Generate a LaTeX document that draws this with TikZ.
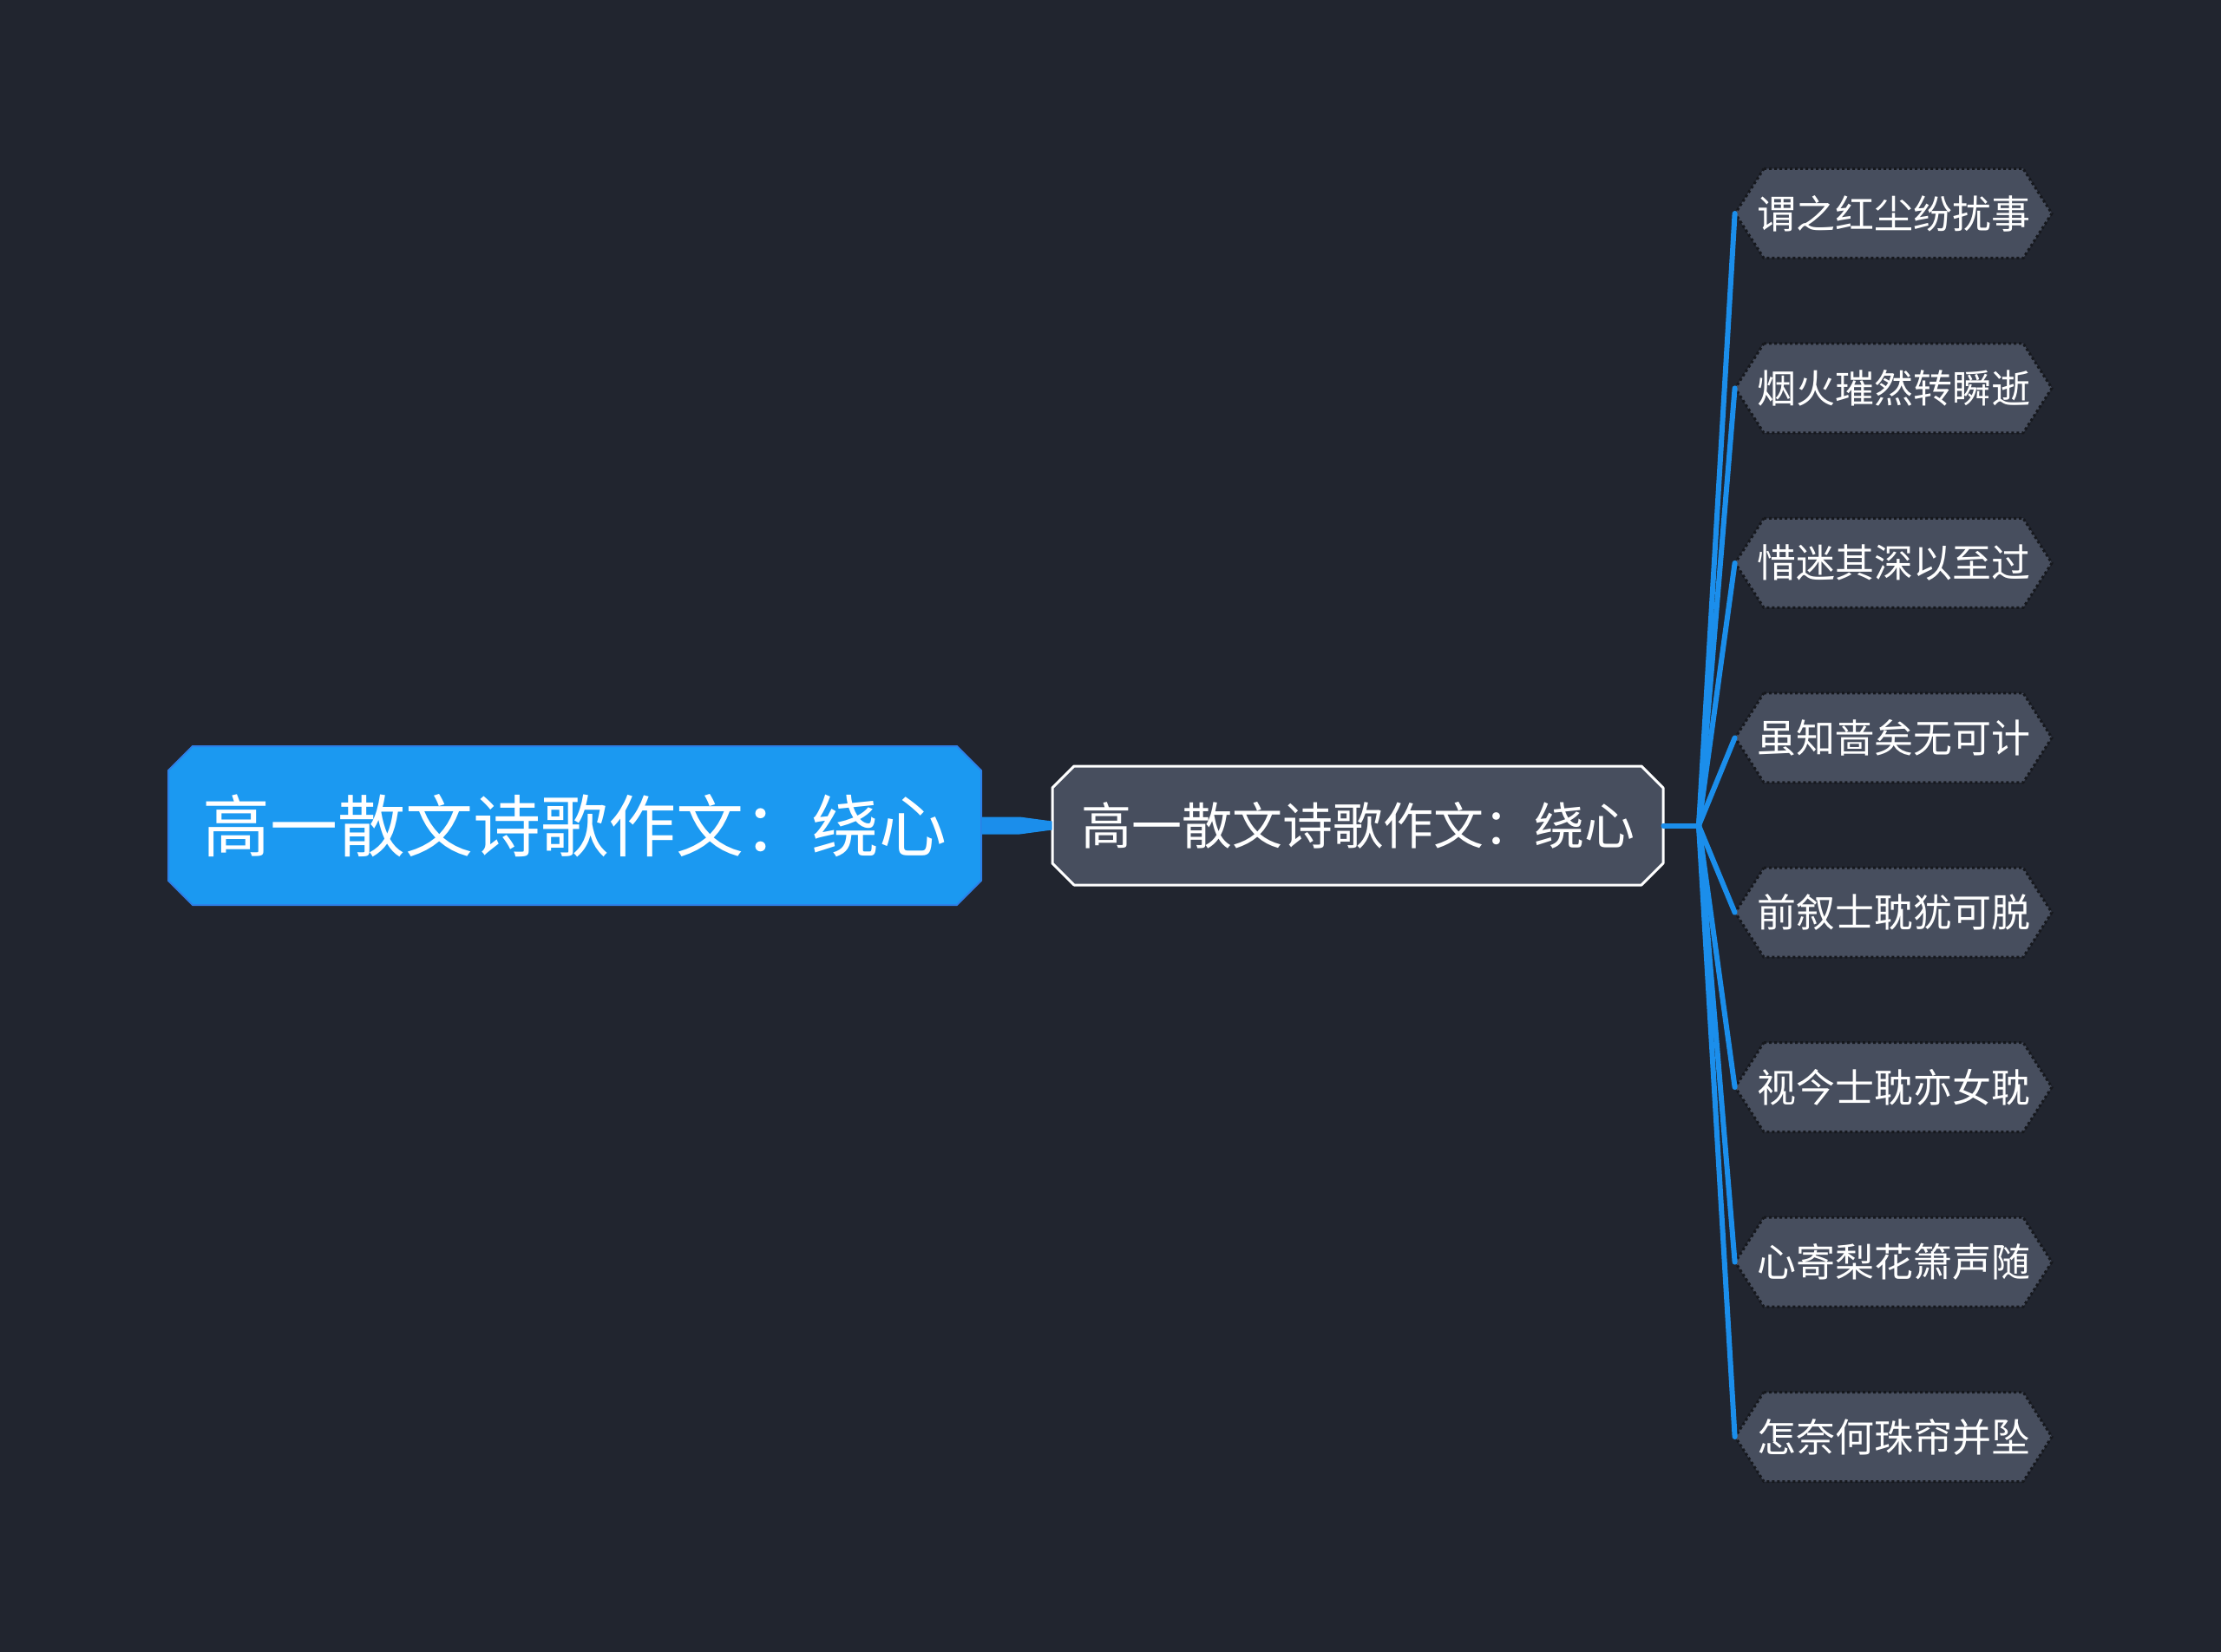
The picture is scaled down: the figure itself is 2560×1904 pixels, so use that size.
\documentclass[tikz,border=0pt]{standalone}
\usepackage{fontspec}
\setmainfont{Noto Sans CJK SC}
\usetikzlibrary{calc}
\definecolor{bgc}{HTML}{21252F}
\definecolor{rootc}{HTML}{1B99F1}
\definecolor{rootb}{HTML}{2E7FE6}
\definecolor{boxc}{HTML}{474E5E}
\definecolor{linec}{HTML}{1B8EEB}
\definecolor{dotc}{HTML}{16181D}
\newcommand\mmshape[7]{%
  \path[#1] (#2-#4+#6,#3-#5) -- (#2+#4-#6,#3-#5) -- (#2+#4,#3-#5+#7) -- (#2+#4,#3+#5-#7)
   -- (#2+#4-#6,#3+#5) -- (#2-#4+#6,#3+#5) -- (#2-#4,#3+#5-#7) -- (#2-#4,#3-#5+#7) -- cycle;}
\tikzset{
  rootshape/.style={fill=rootc,draw=rootb,line width=1pt,line join=round},
  midshape/.style={fill=boxc,draw=white,line width=1.5pt,line join=round},
  leafshape/.style={fill=boxc,draw=dotc,line width=1.5pt,dash pattern=on 1.5pt off 1.5pt},
  txt/.style={text=white,inner sep=0pt},
  roottext/.style={txt,font=\fontsize{39pt}{44pt}\selectfont,minimum width=468.5pt,minimum height=91.5pt},
  midtext/.style={txt,font=\fontsize{29pt}{33pt}\selectfont,minimum width=352pt,minimum height=68.5pt},
  leaftext/.style={txt,font=\fontsize{22.5pt}{26pt}\selectfont,minimum width=182.5pt,minimum height=51.5pt},
  conn/.style={draw=linec,line width=3pt,line cap=round,line join=round},
}
\begin{document}
\begin{tikzpicture}[x=0.5pt,y=-0.5pt]
\useasboundingbox (0,0) rectangle (2560,1904);
\fill[bgc] (0,0) rectangle (2560,1904);
% shapes
\mmshape{rootshape}{662.5}{951.5}{468.5}{91.5}{28}{28}
\mmshape{midshape}{1565}{951.5}{352}{68.5}{25}{25}
\foreach \yy in {246,447.4,648.9,850.3,1051.7,1253.1,1454.6,1656}{
  \mmshape{leafshape}{2182.5}{\yy}{182.5}{51.5}{33}{51.5}
}
% nodes
\node[roottext] (root) at (662.5,951.5) {高一散文诗歌作文：绕心};
\node[midtext] (mid) at (1565,951.5) {高一散文诗歌作文：绕心};
\node[leaftext] (l1) at (2182.5,246) {谓之红尘纷扰事};
\node[leaftext] (l2) at (2182.5,447.4) {烟火璀然转瞬逝};
\node[leaftext] (l3) at (2182.5,648.9) {惜迷其深以至过};
\node[leaftext] (l4) at (2182.5,850.3) {虽知啬矣无可计};
\node[leaftext] (l5) at (2182.5,1051.7) {前叙士耽犹可脱};
\node[leaftext] (l6) at (2182.5,1253.1) {视今士耽亦女耽};
\node[leaftext] (l7) at (2182.5,1454.6) {心寄梨花箫声随};
\node[leaftext] (l8) at (2182.5,1656) {怎奈何珠帘并坠};
% root to middle tapered connector
\fill[linec] ($(root.east)+(0,-10)$) -- ($(root.east)+(44,-10)$) -- ($(mid.west)+(0,-5)$)
  -- ($(mid.west)+(0,5)$) -- ($(root.east)+(44,10)$) -- ($(root.east)+(0,10)$) -- cycle;
% middle to leaves
\coordinate (br) at (1958,951.5);
\draw[conn] (mid.east) -- (br);
\foreach \n in {l1,l2,l3,l4,l5,l6,l7,l8}{
  \draw[conn] (br) -- (\n.west);
}
\end{tikzpicture}
\end{document}
